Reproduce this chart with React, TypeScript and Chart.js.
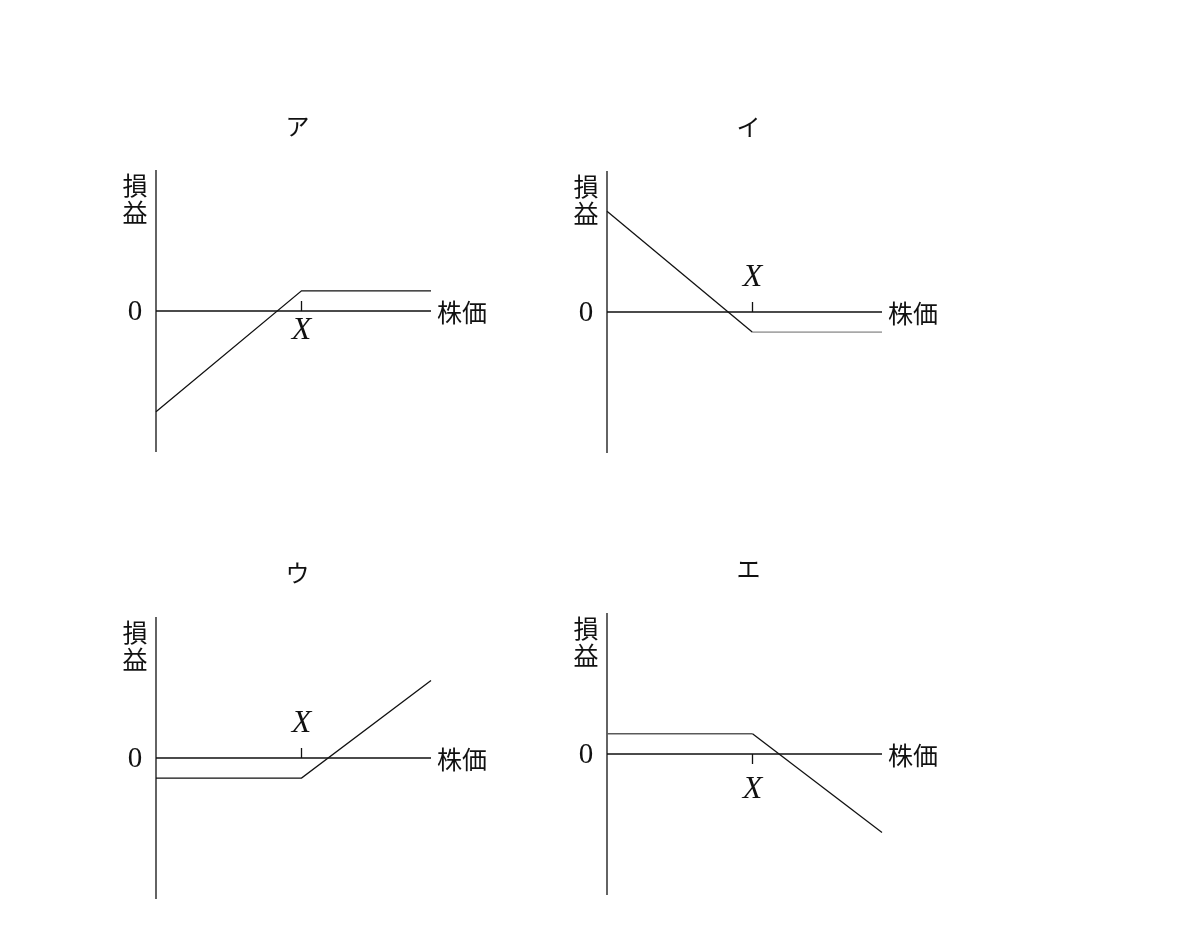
import { useEffect, useRef } from "react"
import { Chart, registerables } from "chart.js"

Chart.register(...registerables)

// stock price axis: origin, strike X, right end
const stockPrice = [0, 1, 1.89]
const strike = 1

const panelTitles = ["ア", "イ", "ウ", "エ"]
const payoffA = [-1.0, 0.2, 0.2]
const payoffI = [1.0, -0.2, -0.2]
const payoffU = [-0.2, -0.2, 0.77]
const payoffE = [0.2, 0.2, -0.78]

const xAxisLabel = "株価"
const yAxisLabel = ["損", "益"]
const zeroLabel = "0"
const strikeLabel = "X"

const CJK = '"Noto Sans CJK JP", sans-serif'
const SERIF = '"Liberation Serif", "DejaVu Serif", serif'

const PAD = { left: 60, right: 80, top: 80, bottom: 20 }

const axesPlugin = {
    id: "payoffAxes",
    beforeDatasetsDraw(chart: any, _args: any, opts: any) {
        const { ctx, chartArea } = chart
        const xs = chart.scales.x
        const ys = chart.scales.y
        const x0 = xs.getPixelForValue(0)
        const y0 = ys.getPixelForValue(0)
        const xK = xs.getPixelForValue(strike)

        ctx.save()
        ctx.strokeStyle = "#111"
        ctx.lineWidth = 1.3
        ctx.beginPath()
        // vertical axis
        ctx.moveTo(x0, chartArea.top)
        ctx.lineTo(x0, chartArea.bottom)
        // horizontal axis
        ctx.moveTo(chartArea.left, y0)
        ctx.lineTo(chartArea.right, y0)
        // strike tick
        ctx.moveTo(xK, y0)
        ctx.lineTo(xK, opts.tickUp ? y0 - 10 : y0 + 10)
        ctx.stroke()

        ctx.fillStyle = "#111"
        ctx.textAlign = "center"
        ctx.textBaseline = "middle"

        // title
        ctx.font = "24px " + CJK
        ctx.fillText(opts.title, xK - 4, chartArea.top - 44)

        // 損益
        ctx.font = "25px " + CJK
        ctx.fillText(yAxisLabel[0], x0 - 21, chartArea.top + 15)
        ctx.fillText(yAxisLabel[1], x0 - 21, chartArea.top + 42)

        // 0
        ctx.font = "29px " + SERIF
        ctx.fillText(zeroLabel, x0 - 21, y0 + 1)

        // X
        ctx.font = "italic 32px " + SERIF
        ctx.fillText(strikeLabel, xK, y0 + opts.labelOffset)

        // 株価
        ctx.font = "25px " + CJK
        ctx.textAlign = "left"
        ctx.fillText(xAxisLabel, chartArea.right + 6, y0 + 1)
        ctx.restore()
    },
}

type PanelProps = {
    title: string
    payoff: number[]
    left: number
    top: number
    tickUp: boolean
    labelOffset: number
    greySeg?: { index: number; color: string; width: number }
}

function Panel({ title, payoff, left, top, tickUp, labelOffset, greySeg }: PanelProps) {
    const canvasRef = useRef<HTMLCanvasElement>(null)

    useEffect(() => {
        if (!canvasRef.current) return
        const chart = new Chart(canvasRef.current, {
            type: "line",
            data: {
                datasets: [
                    {
                        data: stockPrice.map((x, i) => ({ x, y: payoff[i] })),
                        borderColor: "#111",
                        borderWidth: 1.3,
                        pointRadius: 0,
                        tension: 0,
                        fill: false,
                        clip: false as any,
                        segment: {
                            borderColor: (c: any) =>
                                greySeg && c.p0DataIndex === greySeg.index ? greySeg.color : undefined,
                            borderWidth: (c: any) =>
                                greySeg && c.p0DataIndex === greySeg.index ? greySeg.width : undefined,
                        },
                    },
                ],
            },
            plugins: [axesPlugin],
            options: {
                animation: false,
                responsive: true,
                maintainAspectRatio: false,
                layout: { padding: PAD },
                plugins: {
                    legend: { display: false },
                    tooltip: { enabled: false },
                    payoffAxes: { title, tickUp, labelOffset },
                } as any,
                scales: {
                    x: { type: "linear", min: 0, max: 1.89, display: false },
                    y: { type: "linear", min: -1.4, max: 1.4, display: false },
                },
            },
        })
        return () => chart.destroy()
    }, [title, payoff])

    return (
        <div
            style={{
                position: "absolute",
                left: left - PAD.left,
                top: top - PAD.top,
                width: 275 + PAD.left + PAD.right,
                height: 282 + PAD.top + PAD.bottom,
            }}
        >
            <canvas ref={canvasRef}></canvas>
        </div>
    )
}

export default function App() {
    return (
        <div style={{ position: "absolute", left: 0, top: 0, width: 1200, height: 950, background: "#fff" }}>
            <Panel title={panelTitles[0]} payoff={payoffA} left={156} top={170} tickUp={true} labelOffset={20} />
            <Panel
                title={panelTitles[1]}
                payoff={payoffI}
                left={607}
                top={171}
                tickUp={true}
                labelOffset={-34}
                greySeg={{ index: 1, color: "#a8a8a8", width: 1.8 }}
            />
            <Panel title={panelTitles[2]} payoff={payoffU} left={156} top={617} tickUp={true} labelOffset={-34} />
            <Panel
                title={panelTitles[3]}
                payoff={payoffE}
                left={607}
                top={613}
                tickUp={false}
                labelOffset={36}
                greySeg={{ index: 0, color: "#5a5a5a", width: 1.5 }}
            />
        </div>
    )
}
